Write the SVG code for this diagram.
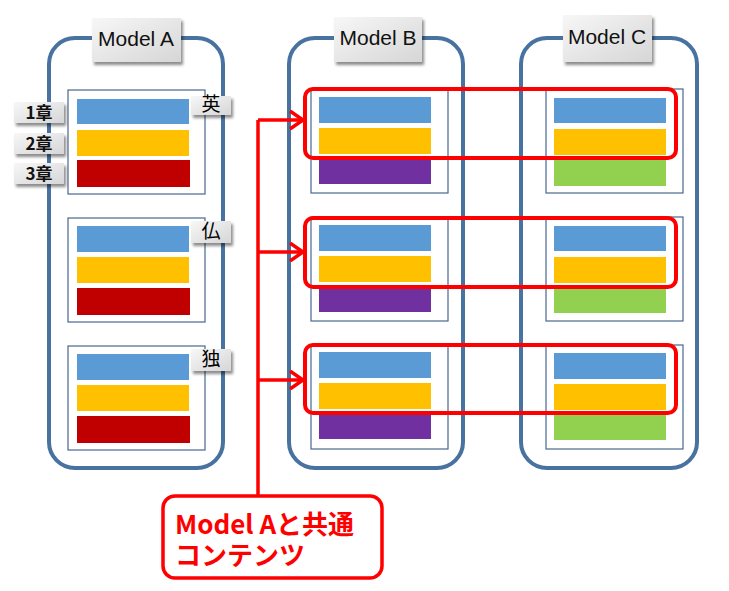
<svg xmlns="http://www.w3.org/2000/svg" width="729" height="591" viewBox="0 0 729 591">
<defs>
<linearGradient id="lg" x1="0" y1="0" x2="1" y2="1">
<stop offset="0" stop-color="#f7f7f7"/>
<stop offset="1" stop-color="#d6d6d6"/>
</linearGradient>
<filter id="sh" x="-20%" y="-20%" width="150%" height="160%">
<feDropShadow dx="2" dy="3" stdDeviation="1.8" flood-color="#000" flood-opacity="0.45"/>
</filter>
<marker id="arr" viewBox="0 0 16 20" refX="14" refY="10" markerWidth="16" markerHeight="20" markerUnits="userSpaceOnUse" orient="auto">
<path d="M1,1 L14,10 L1,19" fill="none" stroke="#ff0000" stroke-width="3.5"/>
</marker>
</defs>
<style>
.cont{fill:none;stroke:#4872a0;stroke-width:4}
.box{fill:#fff;stroke:#4a6890;stroke-width:1.2}
.lbl{fill:url(#lg);filter:url(#sh)}
.mt{font-family:"Liberation Sans","Noto Sans",sans-serif;font-size:21px;fill:#111;text-anchor:middle}
.ct{font-family:"Noto Sans CJK JP",sans-serif;font-size:17px;font-weight:bold;fill:#111;text-anchor:middle}
.lt{font-family:"Noto Sans CJK JP",serif;font-size:19px;fill:#000;text-anchor:middle}
.b{fill:#5b9bd5}.y{fill:#ffc000}.r{fill:#c00000}.p{fill:#7030a0}.g{fill:#92d050}
.hl{fill:none;stroke:#ff0000;stroke-width:4}
.con{fill:none;stroke:#ff0000;stroke-width:3.5}
.co{font-family:"Noto Sans CJK JP",sans-serif;font-size:26px;font-weight:bold;fill:#ff0000}
</style>
<rect width="729" height="591" fill="#fff"/>

<g id="modelA">
<rect class="cont" x="49" y="38" width="174" height="430" rx="26"/>
<rect class="box" x="68" y="90" width="137" height="104"/>
<rect class="b" x="77" y="99" width="112" height="25"/>
<rect class="y" x="77" y="130" width="112" height="26"/>
<rect class="r" x="77" y="160" width="113" height="27"/>
<rect class="box" x="68" y="218" width="137" height="104"/>
<rect class="b" x="77" y="226" width="112" height="26"/>
<rect class="y" x="77" y="257" width="112" height="26"/>
<rect class="r" x="77" y="288" width="113" height="27"/>
<rect class="box" x="68" y="346" width="137" height="104"/>
<rect class="b" x="77" y="354" width="112" height="26"/>
<rect class="y" x="77" y="385" width="112" height="26"/>
<rect class="r" x="77" y="416" width="113" height="27"/>
<rect class="lbl" x="92" y="18" width="89" height="44"/>
<text class="mt" x="136" y="46">Model  A</text>
</g>

<g id="chapters">
<rect class="lbl" x="14" y="102" width="50" height="21"/>
<text class="ct" x="39" y="119">1章</text>
<rect class="lbl" x="14" y="133" width="50" height="21"/>
<text class="ct" x="39" y="150">2章</text>
<rect class="lbl" x="14" y="163" width="50" height="21"/>
<text class="ct" x="39" y="180">3章</text>
</g>

<g id="languages">
<rect class="lbl" x="191" y="96" width="40" height="19"/>
<text class="lt" x="211" y="111">英</text>
<rect class="lbl" x="191" y="221" width="40" height="22"/>
<text class="lt" x="211" y="238">仏</text>
<rect class="lbl" x="191" y="349" width="40" height="22"/>
<text class="lt" x="211" y="366">独</text>
</g>

<g id="modelB">
<rect class="cont" x="289" y="38" width="174" height="430" rx="26"/>
<rect class="box" x="311" y="89" width="137" height="104"/>
<rect class="b" x="319" y="97" width="112" height="26"/>
<rect class="y" x="319" y="128" width="112" height="26"/>
<rect class="p" x="319" y="159" width="112" height="25"/>
<rect class="box" x="311" y="217" width="137" height="104"/>
<rect class="b" x="319" y="225" width="112" height="26"/>
<rect class="y" x="319" y="256" width="112" height="26"/>
<rect class="p" x="319" y="287" width="112" height="25"/>
<rect class="box" x="311" y="345" width="137" height="104"/>
<rect class="b" x="319" y="352" width="112" height="26"/>
<rect class="y" x="319" y="383" width="112" height="26"/>
<rect class="p" x="319" y="414" width="112" height="25"/>
<rect class="lbl" x="334" y="17" width="88" height="45"/>
<text class="mt" x="378" y="45">Model  B</text>
</g>

<g id="modelC">
<rect class="cont" x="521" y="38" width="176" height="430" rx="26"/>
<rect class="box" x="546" y="89" width="137" height="104"/>
<rect class="b" x="554" y="98" width="112" height="25"/>
<rect class="y" x="554" y="129" width="112" height="26"/>
<rect class="g" x="554" y="160" width="112" height="26"/>
<rect class="box" x="546" y="217" width="137" height="104"/>
<rect class="b" x="554" y="226" width="112" height="25"/>
<rect class="y" x="554" y="257" width="112" height="26"/>
<rect class="g" x="554" y="287" width="112" height="26"/>
<rect class="box" x="546" y="345" width="137" height="104"/>
<rect class="b" x="554" y="353" width="112" height="26"/>
<rect class="y" x="554" y="384" width="112" height="26"/>
<rect class="g" x="554" y="414" width="112" height="26"/>
<rect class="lbl" x="563" y="15" width="89" height="47"/>
<text class="mt" x="607" y="44">Model  C</text>
</g>

<g id="highlights">
<rect class="hl" x="305" y="89" width="371" height="69" rx="8"/>
<rect class="hl" x="305" y="218" width="371" height="69" rx="8"/>
<rect class="hl" x="305" y="345" width="371" height="68" rx="8"/>
</g>

<g id="connectors">
<path class="con" d="M258,495 V120"/>
<path class="con" d="M258,120 H303" marker-end="url(#arr)"/>
<path class="con" d="M258,252 H303" marker-end="url(#arr)"/>
<path class="con" d="M258,380 H303" marker-end="url(#arr)"/>
</g>

<g id="callout">
<rect x="163" y="496" width="219" height="82" rx="12" fill="#fff" stroke="#ff0000" stroke-width="3.5"/>
<text class="co" x="175" y="534">Model Aと共通<tspan x="175" dy="31">コンテンツ</tspan></text>
</g>
</svg>
